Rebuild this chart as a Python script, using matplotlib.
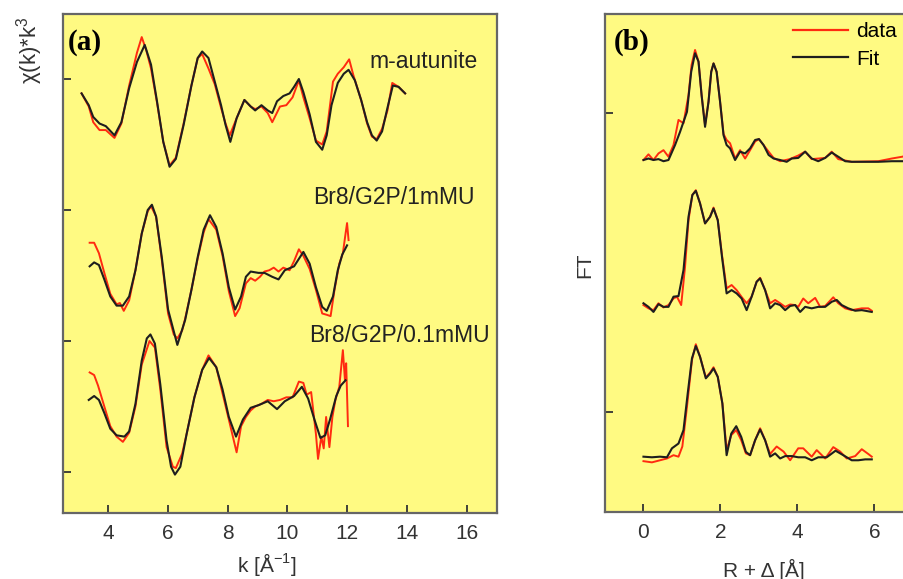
import numpy as np
import matplotlib
matplotlib.use("Agg")
import matplotlib.pyplot as plt

plt.rcParams['font.family'] = ['Liberation Sans', 'DejaVu Sans']
plt.rcParams['mathtext.fontset'] = 'custom'
plt.rcParams['mathtext.rm'] = 'Liberation Sans'

# ---- panel (a): k-space, three stacked spectra (data / fit) ----
k_top_fit = [3.12, 3.36, 3.51, 3.72, 3.93, 4.22, 4.45, 4.71, 4.97, 5.23, 5.44, 5.64, 5.85, 6.06, 6.27,
             6.53, 6.79, 7.00, 7.15, 7.36, 7.57, 7.78, 7.93, 8.09, 8.30, 8.56, 8.77, 8.92, 9.13, 9.34,
             9.49, 9.65, 9.86, 10.07, 10.22, 10.38, 10.53, 10.74, 10.95, 11.16, 11.31, 11.47, 11.68,
             11.88, 12.04, 12.25, 12.46, 12.66, 12.82, 12.98, 13.16, 13.34, 13.52, 13.71, 13.93]
y_top_fit = [2.89, 2.80, 2.71, 2.66, 2.64, 2.57, 2.67, 2.93, 3.13, 3.26, 3.11, 2.83, 2.52, 2.33, 2.39,
             2.65, 2.95, 3.16, 3.21, 3.16, 2.98, 2.80, 2.65, 2.52, 2.70, 2.84, 2.79, 2.76, 2.80, 2.76,
             2.74, 2.83, 2.87, 2.89, 2.94, 3.00, 2.90, 2.73, 2.52, 2.46, 2.57, 2.80, 2.97,
             3.04, 3.07, 2.99, 2.84, 2.67, 2.57, 2.53, 2.60, 2.78, 2.95, 2.94, 2.89]
k_top_data = [3.12, 3.36, 3.51, 3.72, 3.93, 4.22, 4.45, 4.71, 4.97, 5.13, 5.28, 5.44, 5.64, 5.85, 6.06,
              6.27, 6.53, 6.79, 7.00, 7.15, 7.36, 7.57, 7.78, 7.93, 8.07, 8.30, 8.56, 8.77, 8.92, 9.13,
              9.34, 9.49, 9.75, 9.96, 10.17, 10.38, 10.53, 10.74, 10.95, 11.16, 11.31, 11.52, 11.68,
              11.88, 12.06, 12.20, 12.46, 12.66, 12.82, 12.98, 13.16, 13.34, 13.50, 13.71, 13.93]
y_top_data = [2.89, 2.79, 2.67, 2.61, 2.61, 2.55, 2.66, 2.95, 3.20, 3.32, 3.22, 3.08, 2.82, 2.52, 2.34,
              2.40, 2.66, 2.95, 3.16, 3.19, 3.08, 2.96, 2.78, 2.66, 2.57, 2.70, 2.84, 2.79, 2.77, 2.79,
              2.74, 2.67, 2.79, 2.80, 2.86, 2.99, 2.86, 2.70, 2.53, 2.50, 2.60, 2.98, 3.04,
              3.09, 3.15, 3.03, 2.84, 2.66, 2.56, 2.54, 2.62, 2.76, 2.97, 2.94, 2.89]

k_mid_fit = [3.39, 3.54, 3.70, 3.88, 4.08, 4.29, 4.50, 4.71, 4.92, 5.13, 5.33, 5.47, 5.61, 5.80, 6.01,
             6.32, 6.58, 6.79, 7.00, 7.20, 7.41, 7.62, 7.83, 8.04, 8.25, 8.45, 8.61, 8.77, 9.03, 9.23,
             9.49, 9.70, 9.91, 10.22, 10.53, 10.74, 10.95, 11.16, 11.31, 11.52, 11.68, 11.83, 11.99]
y_mid_fit = [1.57, 1.60, 1.58, 1.47, 1.34, 1.27, 1.27, 1.34, 1.54, 1.82, 2.00, 2.04, 1.95, 1.64, 1.24,
             0.97, 1.16, 1.39, 1.64, 1.85, 1.96, 1.87, 1.67, 1.41, 1.24, 1.34, 1.49, 1.53, 1.52, 1.52,
             1.49, 1.47, 1.54, 1.57, 1.68, 1.59, 1.41, 1.26, 1.23, 1.34, 1.54, 1.66, 1.73]
k_mid_data = [3.39, 3.54, 3.70, 3.88, 4.08, 4.29, 4.40, 4.53, 4.71, 4.92, 5.13, 5.33, 5.44, 5.61, 5.80,
              6.01, 6.20, 6.32, 6.48, 6.58, 6.79, 7.00, 7.20, 7.36, 7.62, 7.83, 8.04, 8.25, 8.40, 8.61,
              8.77, 8.92, 9.08, 9.23, 9.39, 9.54, 9.70, 9.86, 10.07, 10.22, 10.38, 10.53, 10.74, 10.95,
              11.16, 11.31, 11.44, 11.57, 11.73, 11.85, 11.94, 11.99, 12.04]
y_mid_data = [1.75, 1.75, 1.67, 1.52, 1.36, 1.28, 1.29, 1.23, 1.31, 1.54, 1.82, 1.99, 2.03, 1.95, 1.62,
              1.21, 1.05, 1.02, 1.08, 1.17, 1.39, 1.63, 1.83, 1.93, 1.85, 1.65, 1.38, 1.19, 1.25, 1.44,
              1.48, 1.46, 1.49, 1.53, 1.54, 1.56, 1.53, 1.56, 1.54, 1.61, 1.70, 1.65, 1.55, 1.39,
              1.21, 1.20, 1.19, 1.39, 1.59, 1.67, 1.82, 1.90, 1.77]

k_bot_fit = [3.36, 3.54, 3.70, 3.88, 4.08, 4.29, 4.55, 4.71, 4.92, 5.13, 5.30, 5.42, 5.57, 5.75, 5.96,
             6.11, 6.24, 6.42, 6.63, 6.89, 7.15, 7.38, 7.62, 7.83, 8.04, 8.28, 8.51, 8.77, 9.03, 9.34,
             9.65, 9.91, 10.22, 10.48, 10.69, 10.90, 11.10, 11.26, 11.42, 11.63, 11.78, 11.94]
y_bot_fit = [0.55, 0.58, 0.55, 0.45, 0.33, 0.28, 0.27, 0.31, 0.52, 0.85, 1.02, 1.05, 0.98, 0.67, 0.24,
             0.04, -0.02, 0.04, 0.29, 0.57, 0.78, 0.87, 0.80, 0.63, 0.42, 0.27, 0.40, 0.49, 0.51, 0.54,
             0.48, 0.54, 0.58, 0.65, 0.56, 0.40, 0.26, 0.28, 0.40, 0.58, 0.66, 0.70]
k_bot_data = [3.39, 3.54, 3.67, 3.88, 4.08, 4.29, 4.50, 4.71, 4.92, 5.13, 5.39, 5.57, 5.75, 5.96, 6.17,
              6.27, 6.48, 6.63, 6.89, 7.15, 7.36, 7.62, 7.83, 8.04, 8.30, 8.45, 8.61, 8.77, 8.92, 9.13,
              9.34, 9.54, 9.75, 9.96, 10.17, 10.38, 10.53, 10.64, 10.79, 10.95, 11.02, 11.13, 11.21,
              11.29, 11.40, 11.50, 11.60, 11.73, 11.85, 11.92, 11.96, 12.02]
y_bot_data = [0.76, 0.74, 0.66, 0.50, 0.35, 0.27, 0.23, 0.30, 0.50, 0.82, 1.00, 0.95, 0.63, 0.19, 0.04,
              0.03, 0.14, 0.29, 0.57, 0.78, 0.89, 0.80, 0.60, 0.40, 0.15, 0.35, 0.42, 0.47, 0.50, 0.52,
              0.55, 0.54, 0.55, 0.57, 0.57, 0.69, 0.68, 0.59, 0.61, 0.29, 0.10, 0.27, 0.18,
              0.42, 0.19, 0.42, 0.55, 0.65, 0.93, 0.70, 0.83, 0.35]

labels_a = ['m-autunite', 'Br8/G2P/1mMU', 'Br8/G2P/0.1mMU']

# ---- panel (b): R-space FT magnitudes (data / fit) ----
r_top_fit = [0.00, 0.13, 0.26, 0.39, 0.52, 0.65, 0.82, 0.95, 1.13, 1.24, 1.34, 1.43, 1.51, 1.60, 1.69,
             1.76, 1.82, 1.90, 1.99, 2.08, 2.16, 2.25, 2.38, 2.51, 2.64, 2.77, 2.90, 3.00, 3.12, 3.25,
             3.38, 3.55, 3.72, 3.85, 4.02, 4.20, 4.37, 4.54, 4.72, 4.89, 5.06, 5.24, 5.41, 5.76, 6.10,
             6.45, 6.72, 6.95]
f_top_fit = [0.843, 0.848, 0.843, 0.846, 0.839, 0.843, 0.893, 0.937, 1.004, 1.138, 1.200, 1.172, 1.060,
             0.954, 1.038, 1.138, 1.166, 1.138, 1.038, 0.926, 0.893, 0.882, 0.843, 0.871, 0.865, 0.882,
             0.910, 0.913, 0.893, 0.860, 0.848, 0.843, 0.837, 0.848, 0.850, 0.871, 0.848, 0.839, 0.850,
             0.868, 0.854, 0.839, 0.837, 0.837, 0.837, 0.839, 0.839, 0.839]
r_top_data = [0.00, 0.13, 0.26, 0.39, 0.52, 0.65, 0.78, 0.91, 1.04, 1.17, 1.25, 1.34, 1.43, 1.51, 1.60,
              1.69, 1.76, 1.82, 1.90, 1.99, 2.08, 2.16, 2.25, 2.38, 2.51, 2.64, 2.77, 2.90, 3.00, 3.12,
              3.25, 3.38, 3.55, 3.80, 4.02, 4.20, 4.37, 4.72, 4.89, 5.06, 5.41, 6.10, 6.45, 6.72, 6.95]
f_top_data = [0.843, 0.862, 0.843, 0.865, 0.876, 0.854, 0.893, 0.977, 0.966, 1.060, 1.161, 1.211, 1.172,
              1.060, 0.960, 1.038, 1.138, 1.166, 1.138, 1.038, 0.930, 0.910, 0.899, 0.848, 0.876, 0.848,
              0.876, 0.905, 0.913, 0.893, 0.871, 0.850, 0.839, 0.846, 0.858, 0.871, 0.846, 0.850, 0.871,
              0.846, 0.837, 0.839, 0.848, 0.854, 0.862]

r_mid_fit = [0.00, 0.13, 0.26, 0.39, 0.52, 0.65, 0.78, 0.91, 1.04, 1.17, 1.27, 1.36, 1.47, 1.60, 1.73,
             1.82, 1.93, 2.04, 2.16, 2.29, 2.42, 2.55, 2.68, 2.81, 2.94, 3.03, 3.16, 3.29, 3.42, 3.55,
             3.68, 3.81, 3.94, 4.07, 4.20, 4.37, 4.54, 4.72, 4.89, 5.02, 5.15, 5.32, 5.50, 5.67, 5.93]
f_mid_fit = [0.364, 0.352, 0.335, 0.361, 0.352, 0.352, 0.386, 0.388, 0.475, 0.653, 0.726, 0.740, 0.698,
             0.631, 0.653, 0.681, 0.642, 0.519, 0.397, 0.408, 0.397, 0.380, 0.341, 0.386, 0.436, 0.447,
             0.408, 0.347, 0.364, 0.358, 0.341, 0.355, 0.358, 0.335, 0.352, 0.347, 0.352, 0.352, 0.369,
             0.375, 0.358, 0.347, 0.339, 0.341, 0.335]
r_mid_data = [0.00, 0.13, 0.26, 0.39, 0.52, 0.65, 0.78, 0.87, 0.98, 1.08, 1.17, 1.27, 1.36, 1.47, 1.60,
              1.73, 1.82, 1.93, 2.04, 2.16, 2.29, 2.42, 2.55, 2.68, 2.81, 2.94, 3.03, 3.16, 3.29, 3.42,
              3.55, 3.68, 3.81, 3.94, 4.02, 4.15, 4.28, 4.46, 4.59, 4.72, 4.93, 5.06, 5.24, 5.41, 5.67,
              5.84, 5.93]
f_mid_data = [0.358, 0.347, 0.341, 0.364, 0.350, 0.358, 0.380, 0.386, 0.358, 0.486, 0.642, 0.726, 0.742,
              0.698, 0.631, 0.653, 0.684, 0.642, 0.525, 0.414, 0.425, 0.408, 0.385, 0.364, 0.386, 0.436,
              0.449, 0.408, 0.364, 0.375, 0.364, 0.352, 0.360, 0.358, 0.352, 0.380, 0.364, 0.382, 0.352,
              0.355, 0.384, 0.364, 0.347, 0.341, 0.347, 0.347, 0.339]

r_bot_fit = [0.00, 0.22, 0.43, 0.61, 0.74, 0.91, 1.04, 1.15, 1.26, 1.36, 1.47, 1.62, 1.73, 1.82, 1.93,
             2.05, 2.16, 2.28, 2.41, 2.54, 2.66, 2.77, 2.90, 3.03, 3.16, 3.29, 3.42, 3.55, 3.68, 3.85,
             4.02, 4.20, 4.37, 4.54, 4.76, 4.99, 5.19, 5.41, 5.58, 5.76, 5.93]
f_bot_fit = [-0.149, -0.151, -0.149, -0.151, -0.121, -0.105, -0.060, 0.063, 0.180, 0.221, 0.185, 0.113,
             0.129, 0.146, 0.118, 0.029, -0.144, -0.072, -0.047, -0.083, -0.133, -0.144, -0.094, -0.058,
             -0.094, -0.149, -0.138, -0.155, -0.147, -0.147, -0.151, -0.151, -0.161, -0.151, -0.151,
             -0.129, -0.144, -0.161, -0.161, -0.158, -0.158]
r_bot_data = [0.00, 0.22, 0.43, 0.61, 0.78, 0.91, 1.01, 1.13, 1.26, 1.36, 1.47, 1.62, 1.73, 1.82, 1.93,
              2.05, 2.16, 2.28, 2.41, 2.54, 2.66, 2.77, 2.90, 3.03, 3.16, 3.29, 3.46, 3.64, 3.81, 4.02,
              4.15, 4.37, 4.50, 4.72, 4.93, 5.11, 5.28, 5.50, 5.67, 5.84, 5.93]
f_bot_data = [-0.164, -0.168, -0.161, -0.155, -0.144, -0.149, -0.115, 0.018, 0.174, 0.227, 0.185, 0.116,
              0.132, 0.150, 0.118, 0.029, -0.127, -0.077, -0.060, -0.094, -0.138, -0.144, -0.094, -0.054,
              -0.094, -0.140, -0.115, -0.132, -0.161, -0.121, -0.121, -0.149, -0.127, -0.155, -0.117,
              -0.132, -0.155, -0.147, -0.124, -0.140, -0.149]

bg = '#FFFA82'
red = '#FF2A10'
blk = '#1E1E1E'
spine_col = '#666666'

fig = plt.figure(figsize=(9.04, 5.79), dpi=100)
ax1 = fig.add_axes([0.0697, 0.114, 0.4801, 0.8618])
ax2 = fig.add_axes([0.6692, 0.1157, 0.3833, 0.86])

for ax in (ax1, ax2):
    ax.set_facecolor(bg)
    for s in ax.spines.values():
        s.set_color(spine_col)
        s.set_linewidth(1.6)
    ax.tick_params(direction='in', length=6, width=1.3, color='#333333',
                   labelsize=15, labelcolor='#333333', pad=8, top=False, right=False)

# panel (a)
for kx, yy in [(k_top_data, y_top_data), (k_mid_data, y_mid_data), (k_bot_data, y_bot_data)]:
    ax1.plot(kx, yy, color=red, lw=1.4)
for kx, yy in [(k_top_fit, y_top_fit), (k_mid_fit, y_mid_fit), (k_bot_fit, y_bot_fit)]:
    ax1.plot(kx, yy, color=blk, lw=1.5)
ax1.set_xlim(2.5, 17)
ax1.set_ylim(-0.313, 3.496)
ax1.set_xticks([4, 6, 8, 10, 12, 14, 16])
ax1.set_yticks([0, 1, 2, 3])
ax1.set_yticklabels([])

ax1.text(0.012, 0.97, '(a)', transform=ax1.transAxes, family='Liberation Serif',
         fontweight='bold', fontsize=21, va='top', ha='left')
ax1.text(478 / 904, 1 - 62 / 579, labels_a[0], transform=fig.transFigure,
         fontsize=16.5, ha='right', va='center', color='#222222')
ax1.text(475 / 904, 1 - 197 / 579, labels_a[1], transform=fig.transFigure,
         fontsize=16.5, ha='right', va='center', color='#222222')
ax1.text(490 / 904, 1 - 336 / 579, labels_a[2], transform=fig.transFigure,
         fontsize=16.5, ha='right', va='center', color='#222222')

fig.text(30 / 904, 1 - 50 / 579, r'χ(k)*k$^{\mathregular{3}}$', rotation=90, fontsize=16,
         ha='center', va='center', color='#333333')
fig.text(267 / 904, 1 - 565 / 579, r'k [Å$^{\mathregular{-1}}$]', fontsize=15,
         ha='center', va='center', color='#333333')

# panel (b)
for rx, ff in [(r_top_data, f_top_data), (r_mid_data, f_mid_data), (r_bot_data, f_bot_data)]:
    ax2.plot(rx, ff, color=red, lw=1.4)
for rx, ff in [(r_top_fit, f_top_fit), (r_mid_fit, f_mid_fit), (r_bot_fit, f_bot_fit)]:
    ax2.plot(rx, ff, color=blk, lw=1.5)
ax2.set_xlim(-1, 8)
ax2.set_ylim(-0.334, 1.331)
ax2.set_xticks([0, 2, 4, 6])
ax2.set_yticks([0, 1])
ax2.set_yticklabels([])

ax2.text(0.025, 0.97, '(b)', transform=ax2.transAxes, family='Liberation Serif',
         fontweight='bold', fontsize=21, va='top', ha='left')
ax2.plot([], [], color=red, lw=1.6, label='data')
ax2.plot([], [], color=blk, lw=1.6, label='Fit')
handles, labs = ax2.get_legend_handles_labels()
ax2.legend(handles[-2:], labs[-2:], loc='upper left', bbox_to_anchor=(0.52, 1.0),
           frameon=False, fontsize=15, handlelength=2.6, handletextpad=0.4,
           labelspacing=0.4, borderaxespad=0.3, borderpad=0.1)

fig.text(585 / 904, 1 - 265 / 579, 'FT', rotation=90, fontsize=15,
         ha='center', va='center', color='#333333')
fig.text(764 / 904, 1 - 570 / 579, 'R + Δ [Å]', fontsize=15,
         ha='center', va='center', color='#333333')

fig.savefig('out.png', dpi=100)
